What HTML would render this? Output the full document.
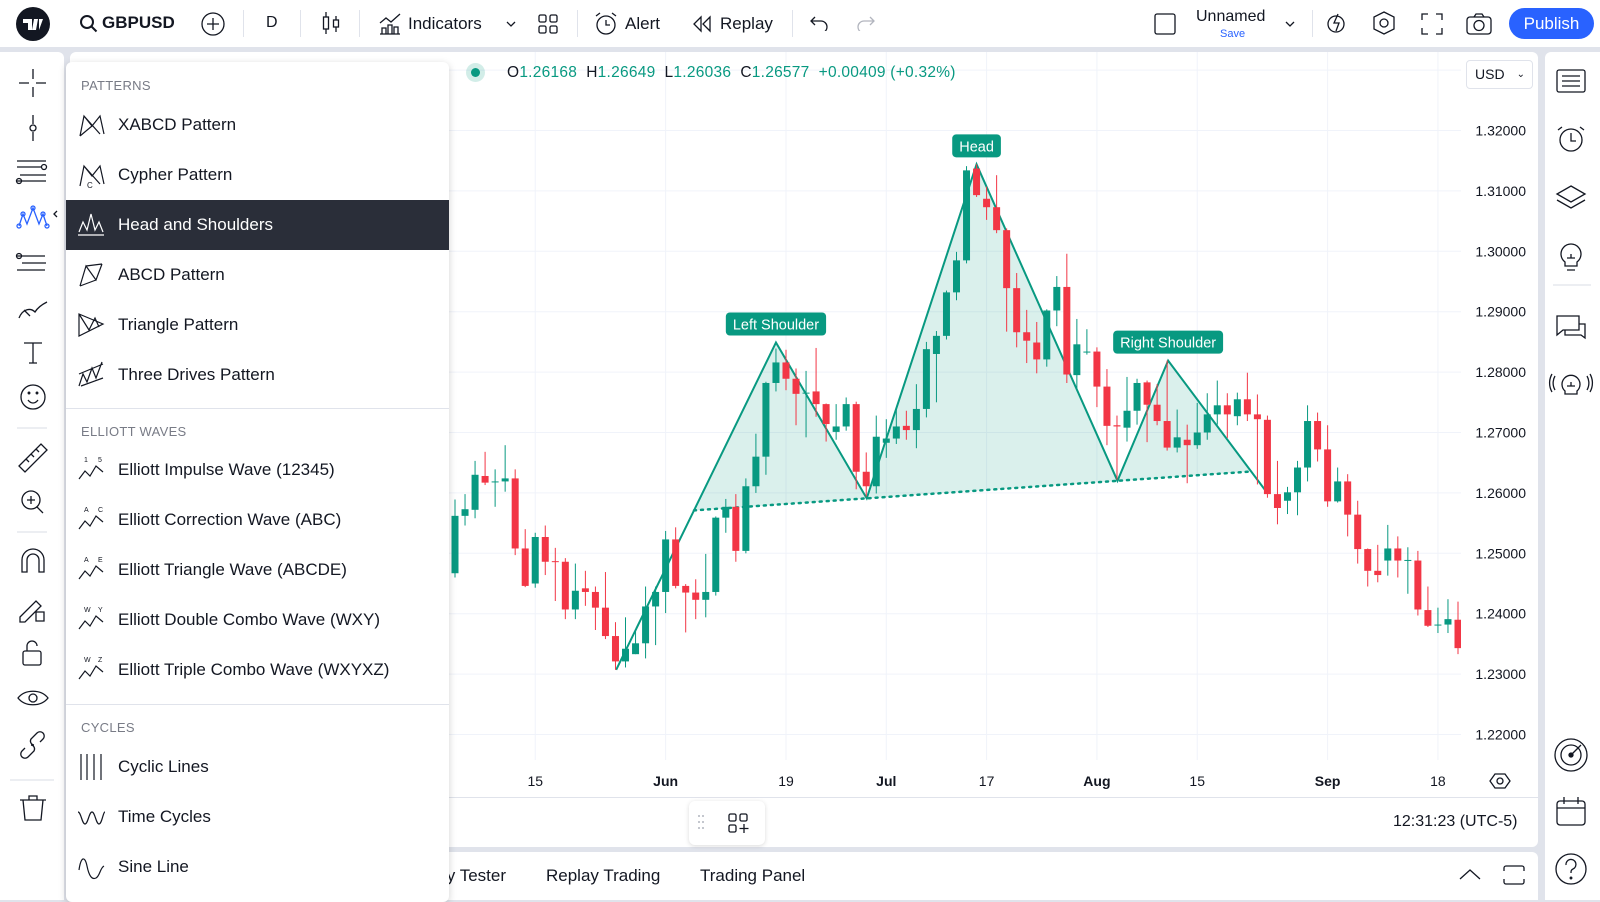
<!DOCTYPE html>
<html><head><meta charset="utf-8">
<style>
*{box-sizing:border-box;margin:0;padding:0}
body{width:1600px;height:900px;overflow:hidden;background:#e0e3eb;font-family:"Liberation Sans",sans-serif;color:#131722;position:relative}
.abs{position:absolute}
.panel{position:absolute;background:#fff}
.t{position:absolute;white-space:nowrap}
.menu{position:absolute;left:66px;top:62px;width:383px;height:840px;background:#fff;border-radius:6px;box-shadow:0 2px 8px rgba(0,0,0,.18);z-index:5}
.mh{position:absolute;left:15px;font-size:13px;color:#787b86;letter-spacing:.3px}
.mi{position:absolute;left:0;width:383px;height:50px;font-size:17px;line-height:50px;padding-left:52px;color:#131722}
.mi svg{position:absolute;left:10px;top:10px}
.sel{background:#2a2e39;color:#fff}
.div{position:absolute;left:0;width:383px;height:1px;background:#e0e3eb}
.ic{position:absolute}
</style></head><body>

<div class="panel" style="left:0;top:0;width:1600px;height:47px">
  <svg class="ic" style="left:15px;top:6px" width="36" height="36"><circle cx="18" cy="18" r="17" fill="#131722"/><path d="M8 13h9v11h-4v-7h-5z M19 13h4l-2 11h-4z M24 13h4l-4 11z" fill="#fff"/></svg>
  <svg class="ic" style="left:79px;top:14px" width="20" height="20"><circle cx="8" cy="8" r="6" fill="none" stroke="#131722" stroke-width="2"/><path d="M12.5 12.5l5 5" stroke="#131722" stroke-width="2"/></svg>
  <div class="t" style="left:102px;top:13px;font-size:17px;font-weight:bold">GBPUSD</div>
  <svg class="ic" style="left:201px;top:12px" width="24" height="24"><circle cx="12" cy="12" r="11" fill="none" stroke="#131722" stroke-width="1.3"/><path d="M12 6v12M6 12h12" stroke="#131722" stroke-width="1.3"/></svg>
  <div class="abs" style="left:243px;top:10px;width:1px;height:27px;background:#e0e3eb"></div>
  <div class="t" style="left:266px;top:14px;font-size:16px">D</div>
  <div class="abs" style="left:300px;top:10px;width:1px;height:27px;background:#e0e3eb"></div>
  <svg class="ic" style="left:320px;top:10px" width="22" height="26"><path d="M6 2v22M16 6v16" stroke="#131722" stroke-width="1.3"/><rect x="3.5" y="7" width="5" height="12" fill="#fff" stroke="#131722" stroke-width="1.3"/><rect x="13.5" y="10" width="5" height="7" fill="#fff" stroke="#131722" stroke-width="1.3"/></svg>
  <div class="abs" style="left:359px;top:10px;width:1px;height:27px;background:#e0e3eb"></div>
  <svg class="ic" style="left:378px;top:11px" width="24" height="24"><path d="M2 12l6-5 5 4 9-8" fill="none" stroke="#131722" stroke-width="1.3"/><path d="M2 23h20M4 23v-6h4v6M10 23v-9h4v9M16 23v-7h4v7" fill="none" stroke="#131722" stroke-width="1.3"/></svg>
  <div class="t" style="left:408px;top:14px;font-size:17px">Indicators</div>
  <svg class="ic" style="left:505px;top:19px" width="12" height="10"><path d="M2 3l4 4 4-4" fill="none" stroke="#131722" stroke-width="1.3"/></svg>
  <svg class="ic" style="left:538px;top:14px" width="20" height="20"><rect x="1" y="1" width="7" height="7" rx="1.5" fill="none" stroke="#131722" stroke-width="1.3"/><rect x="12" y="1" width="7" height="7" rx="1.5" fill="none" stroke="#131722" stroke-width="1.3"/><rect x="1" y="12" width="7" height="7" rx="1.5" fill="none" stroke="#131722" stroke-width="1.3"/><rect x="12" y="12" width="7" height="7" rx="1.5" fill="none" stroke="#131722" stroke-width="1.3"/></svg>
  <div class="abs" style="left:577px;top:10px;width:1px;height:27px;background:#e0e3eb"></div>
  <svg class="ic" style="left:593px;top:11px" width="26" height="26"><circle cx="13" cy="14" r="9" fill="none" stroke="#131722" stroke-width="1.3"/><path d="M13 9v5h4M3 5l4-3M23 5l-4-3" fill="none" stroke="#131722" stroke-width="1.3"/></svg>
  <div class="t" style="left:625px;top:14px;font-size:17px">Alert</div>
  <svg class="ic" style="left:692px;top:15px" width="20" height="18"><path d="M9 2L2 9l7 7zM18 2l-7 7 7 7z" fill="none" stroke="#131722" stroke-width="1.3"/></svg>
  <div class="t" style="left:720px;top:14px;font-size:17px">Replay</div>
  <div class="abs" style="left:792px;top:10px;width:1px;height:27px;background:#e0e3eb"></div>
  <svg class="ic" style="left:809px;top:15px" width="20" height="16"><path d="M6 2L2 6l4 4M2 6h10a6 6 0 0 1 0 12" fill="none" stroke="#131722" stroke-width="1.3"/></svg>
  <svg class="ic" style="left:856px;top:15px" width="20" height="16"><path d="M14 2l4 4-4 4M18 6H8a6 6 0 0 0 0 12" fill="none" stroke="#b2b5be" stroke-width="1.3"/></svg>
  <svg class="ic" style="left:1154px;top:13px" width="22" height="22"><rect x="1" y="1" width="20" height="20" rx="2" fill="none" stroke="#131722" stroke-width="1.3"/></svg>
  <div class="t" style="left:1196px;top:8px;font-size:16px">Unnamed</div>
  <div class="t" style="left:1220px;top:28px;font-size:11px;color:#2962ff">Save</div>
  <svg class="ic" style="left:1284px;top:19px" width="12" height="10"><path d="M2 3l4 4 4-4" fill="none" stroke="#131722" stroke-width="1.3"/></svg>
  <div class="abs" style="left:1312px;top:10px;width:1px;height:27px;background:#e0e3eb"></div>
  <svg class="ic" style="left:1325px;top:11px" width="24" height="24"><circle cx="11" cy="13" r="8" fill="none" stroke="#131722" stroke-width="1.3"/><path d="M13 3l-4 9h5l-3 8" fill="none" stroke="#131722" stroke-width="1.3"/></svg>
  <svg class="ic" style="left:1372px;top:11px" width="24" height="24"><path d="M12 1l10 5v12l-10 5-10-5V6z" fill="none" stroke="#131722" stroke-width="1.3"/><circle cx="12" cy="12" r="4" fill="none" stroke="#131722" stroke-width="1.3"/></svg>
  <svg class="ic" style="left:1421px;top:13px" width="22" height="22"><path d="M1 7V1h6M15 1h6v6M21 15v6h-6M7 21H1v-6" fill="none" stroke="#131722" stroke-width="1.3"/></svg>
  <svg class="ic" style="left:1466px;top:13px" width="26" height="22"><rect x="1" y="4" width="24" height="17" rx="3" fill="none" stroke="#131722" stroke-width="1.3"/><circle cx="13" cy="12.5" r="5" fill="none" stroke="#131722" stroke-width="1.3"/><path d="M8 4l2-3h6l2 3" fill="none" stroke="#131722" stroke-width="1.3"/></svg>
  <div class="abs" style="left:1509px;top:8px;width:85px;height:31px;border-radius:16px;background:#2962ff;color:#fff;font-size:17px;line-height:31px;text-align:center">Publish</div>
</div>

<div class="panel" style="left:0;top:52px;width:64px;height:848px;border-top-right-radius:6px"></div>
<svg class="abs" style="left:0;top:0" width="64" height="900">
 <g fill="none" stroke="#131722" stroke-width="1.3">
  <path d="M19 83h10M36 83h10M33 69v10M33 87v10"/>
  <g><path d="M33 115v9M33 132v9"/><circle cx="33" cy="128" r="3"/></g>
  <g><path d="M17 161h29M17 167h25M20 175h26M17 181h29"/><circle cx="44" cy="167" r="2.5"/><circle cx="19" cy="181" r="2.5"/></g>
  <g stroke="#2962ff"><path d="M19 226l4-12 4 10 6-16 6 16 4-10 4 12"/><circle cx="19" cy="226" r="2"/><circle cx="23" cy="214" r="2"/><circle cx="33" cy="208" r="2"/><circle cx="43" cy="214" r="2"/><circle cx="47" cy="226" r="2"/></g>
  <path d="M57 211l-3 3 3 3" stroke="#131722"/>
  <g><path d="M17 256h28M22 263h24M17 270h28"/><circle cx="19" cy="256" r="2.5"/></g>
  <path d="M19 318c4-10 12-10 16-6 3-5 8-8 12-10M24 310l6 6"/>
  <path d="M24 343h18M33 343v20M29 363h8"/>
  <g><circle cx="33" cy="397" r="12"/><path d="M28 400c3 4 7 4 10 0"/><circle cx="29" cy="393" r=".8"/><circle cx="37" cy="393" r=".8"/></g>
  <path d="M17 428h30" stroke="#e0e3eb"/>
  <path d="M19 466l22-22 6 6-22 22zM26 459l3 3M31 454l3 3M36 449l3 3"/>
  <g><circle cx="31" cy="500" r="9"/><path d="M37 507l6 6M27 500h8M31 496v8"/></g>
  <path d="M17 532h30" stroke="#e0e3eb"/>
  <path d="M22 572v-12a11 11 0 0 1 22 0v12h-5v-12a6 6 0 0 0-12 0v12z"/>
  <path d="M20 617l16-16 5 5-16 16h-5zM36 612h8v9h-8z"/>
  <g><rect x="23" y="651" width="18" height="14" rx="2"/><path d="M27 651v-5a5 5 0 0 1 10 0"/></g>
  <g><path d="M18 698c7-9 23-9 30 0-7 9-23 9-30 0z"/><circle cx="33" cy="698" r="4"/></g>
  <path d="M25 748l-3 3a4 4 0 0 0 6 6l6-6a4 4 0 0 0-3-6M40 742l3-3a4 4 0 0 0-6-6l-6 6a4 4 0 0 0 3 6"/>
  <path d="M10 780h44" stroke="#e0e3eb"/>
  <path d="M23 800l2 20h16l2-20M20 800h26M29 800v-4h8v4"/>
 </g>
</svg>

<div class="panel" style="left:70px;top:52px;width:1468px;height:795px;border-radius:6px"></div>
<div class="panel" style="left:70px;top:852px;width:1468px;height:48px;border-top-left-radius:6px;border-top-right-radius:6px">
  <div class="t" style="left:322px;top:14px;font-size:17px">Strategy Tester</div>
  <div class="t" style="left:476px;top:14px;font-size:17px">Replay Trading</div>
  <div class="t" style="left:630px;top:14px;font-size:17px">Trading Panel</div>
  <svg class="ic" style="left:1388px;top:16px" width="24" height="14"><path d="M2 11l10-9 10 9" fill="none" stroke="#131722" stroke-width="1.3"/></svg>
  <svg class="ic" style="left:1433px;top:13px" width="22" height="20"><path d="M1 6V3a2 2 0 0 1 2-2h16a2 2 0 0 1 2 2v3M1 14v3a2 2 0 0 0 2 2h16a2 2 0 0 0 2-2v-3" fill="none" stroke="#131722" stroke-width="1.3"/></svg>
</div>
<div class="panel" style="left:1545px;top:52px;width:55px;height:848px;border-top-left-radius:6px"></div>
<svg class="abs" style="left:1545px;top:0" width="55" height="900">
 <g fill="none" stroke="#131722" stroke-width="1.3">
  <g><rect x="12" y="70" width="28" height="22" rx="2"/><path d="M17 76h18M17 81h18M17 86h18"/></g>
  <g><circle cx="26" cy="140" r="11"/><path d="M26 133v8h5M13 130l4-3M39 130l-4-3"/></g>
  <path d="M26 186l14 8-14 8-14-8zM12 200l14 8 14-8"/>
  <g><path d="M20 262a10 10 0 1 1 12 0v4h-12z"/><path d="M22 258h8M26 258v-4M22 270h8"/></g>
  <path d="M8 285h38" stroke="#e0e3eb"/>
  <path d="M12 316h22v14h-16l-6 5zM34 324h6v14l-4-3h-16v-5"/>
  <g><path d="M20 391a9 9 0 1 1 12 0v3h-12z"/><path d="M22 386h8M26 386v-4M10 376a14 14 0 0 0 0 14M42 376a14 14 0 0 1 0 14M7 374a18 18 0 0 0 0 18M45 374a18 18 0 0 1 0 18"/></g>
  <g><circle cx="26" cy="755" r="16"/><circle cx="26" cy="755" r="10"/><path d="M26 755l10-10"/><circle cx="26" cy="755" r="2" fill="#131722"/></g>
  <g><rect x="12" y="801" width="28" height="24" rx="3"/><path d="M12 808h28M19 797v7M33 797v7"/></g>
  <g><circle cx="26" cy="869" r="15"/><path d="M21 865a5 5 0 1 1 7 4c-2 1-2 2-2 4"/><circle cx="26" cy="878" r=".8"/></g>
 </g>
</svg>

<svg id="chart" class="abs" style="left:0;top:0;z-index:2" width="1600" height="900">
  <defs><clipPath id="plotclip"><rect x="70" y="52" width="1391" height="708"/></clipPath></defs>
  <g id="grid"></g>
  <g id="pattern" clip-path="url(#plotclip)"></g>
  <g id="candles" clip-path="url(#plotclip)"></g>
  <g id="labels"></g>
  <g id="axes"></g>
</svg>

<div class="abs" style="left:70px;top:797px;width:1468px;height:1px;background:#e0e3eb;z-index:2"></div>
<div class="t" style="left:466px;top:63px;width:19px;height:19px;border-radius:50%;background:rgba(8,153,129,.18);z-index:3"><div style="position:absolute;left:5px;top:5px;width:9px;height:9px;border-radius:50%;background:#089981"></div></div>
<div class="t" style="left:507px;top:64px;font-size:15.5px;letter-spacing:.25px;z-index:3">O<span style="color:#089981">1.26168</span>&nbsp; H<span style="color:#089981">1.26649</span>&nbsp; L<span style="color:#089981">1.26036</span>&nbsp; C<span style="color:#089981">1.26577</span>&nbsp; <span style="color:#089981">+0.00409 (+0.32%)</span></div>
<div class="abs" style="left:1466px;top:60px;width:67px;height:29px;border:1px solid #e0e3eb;border-radius:4px;font-size:14px;line-height:27px;padding-left:8px;background:#fff;z-index:3">USD<span style="position:absolute;right:7px;top:0;font-size:10px">&#8964;</span></div>
<svg class="abs" style="left:1489px;top:772px;z-index:3" width="22" height="18"><path d="M6 2h10l5 7-5 7H6L1 9z" fill="none" stroke="#131722" stroke-width="1.3"/><circle cx="11" cy="9" r="3" fill="none" stroke="#131722" stroke-width="1.3"/></svg>
<div class="t" style="left:1393px;top:813px;font-size:16px;z-index:3">12:31:23 (UTC-5)</div>
<div class="abs" style="left:689px;top:801px;width:76px;height:44px;background:#fff;border-radius:6px;box-shadow:0 1px 5px rgba(0,0,0,.15);z-index:3">
  <svg style="position:absolute;left:8px;top:13px" width="8" height="18"><g fill="#b2b5be"><circle cx="2" cy="2" r="1"/><circle cx="6" cy="2" r="1"/><circle cx="2" cy="8" r="1"/><circle cx="6" cy="8" r="1"/><circle cx="2" cy="14" r="1"/><circle cx="6" cy="14" r="1"/></g></svg>
  <svg style="position:absolute;left:39px;top:12px" width="22" height="22"><g fill="none" stroke="#131722" stroke-width="1.3"><rect x="1" y="1" width="7" height="7" rx="1.5"/><rect x="12" y="1" width="7" height="7" rx="1.5"/><rect x="1" y="12" width="7" height="7" rx="1.5"/><path d="M16 11v9M11.5 15.5h9"/></g></svg>
</div>

<div class="menu">
  <div class="mh" style="top:16px">PATTERNS</div>
  <div class="mi" style="top:38px"><svg width="30" height="30"><path d="M4 26l4-20 8 10 8-10 4 18M8 6l16 18M4 26l12-10" fill="none" stroke="#131722" stroke-width="1.2"/></svg>XABCD Pattern</div>
  <div class="mi" style="top:88px"><svg width="30" height="30"><path d="M4 26l4-20 8 10 8-10 4 18M8 6l16 18" fill="none" stroke="#131722" stroke-width="1.2"/><text x="11" y="28" font-size="8" fill="#131722">C</text></svg>Cypher Pattern</div>
  <div class="mi sel" style="top:138px"><svg width="30" height="30"><path d="M3 22l4-10 4 8 4-16 4 16 4-8 4 10M2 25h26" fill="none" stroke="#fff" stroke-width="1.2"/></svg>Head and Shoulders</div>
  <div class="mi" style="top:188px"><svg width="30" height="30"><path d="M4 26l6-20 10 14 6-16M4 26l16-6M10 6l16-2" fill="none" stroke="#131722" stroke-width="1.2"/></svg>ABCD Pattern</div>
  <div class="mi" style="top:238px"><svg width="30" height="30"><path d="M3 4l24 10-24 12zM3 4l10 16 6-12 4 9" fill="none" stroke="#131722" stroke-width="1.2"/></svg>Triangle Pattern</div>
  <div class="mi" style="top:288px"><svg width="30" height="30"><path d="M3 26l4-12 4 8 5-14 4 10 6-16M3 14l24-10M5 26l22-8" fill="none" stroke="#131722" stroke-width="1.2"/></svg>Three Drives Pattern</div>
  <div class="div" style="top:346px"></div>
  <div class="mh" style="top:362px">ELLIOTT WAVES</div>
  <div class="mi" style="top:383px"><svg width="30" height="30"><path d="M3 24l6-8 5 5 6-10 7 6" fill="none" stroke="#131722" stroke-width="1.2"/><text x="8" y="7" font-size="7" fill="#131722">1</text><text x="22" y="7" font-size="7" fill="#131722">5</text></svg>Elliott Impulse Wave (12345)</div>
  <div class="mi" style="top:433px"><svg width="30" height="30"><path d="M3 24l6-8 5 5 6-10 7 6" fill="none" stroke="#131722" stroke-width="1.2"/><text x="8" y="7" font-size="7" fill="#131722">A</text><text x="22" y="7" font-size="7" fill="#131722">C</text></svg>Elliott Correction Wave (ABC)</div>
  <div class="mi" style="top:483px"><svg width="30" height="30"><path d="M3 24l6-8 5 5 6-10 7 6" fill="none" stroke="#131722" stroke-width="1.2"/><text x="8" y="7" font-size="7" fill="#131722">A</text><text x="22" y="7" font-size="7" fill="#131722">E</text></svg>Elliott Triangle Wave (ABCDE)</div>
  <div class="mi" style="top:533px"><svg width="30" height="30"><path d="M3 24l6-8 5 5 6-10 7 6" fill="none" stroke="#131722" stroke-width="1.2"/><text x="8" y="7" font-size="7" fill="#131722">W</text><text x="22" y="7" font-size="7" fill="#131722">Y</text></svg>Elliott Double Combo Wave (WXY)</div>
  <div class="mi" style="top:583px"><svg width="30" height="30"><path d="M3 24l6-8 5 5 6-10 7 6" fill="none" stroke="#131722" stroke-width="1.2"/><text x="8" y="7" font-size="7" fill="#131722">W</text><text x="22" y="7" font-size="7" fill="#131722">Z</text></svg>Elliott Triple Combo Wave (WXYXZ)</div>
  <div class="div" style="top:642px"></div>
  <div class="mh" style="top:658px">CYCLES</div>
  <div class="mi" style="top:680px"><svg width="30" height="30"><path d="M5 2v26M11 2v26M18 2v26M25 2v26" fill="none" stroke="#131722" stroke-width="1.2"/></svg>Cyclic Lines</div>
  <div class="mi" style="top:730px"><svg width="30" height="30"><path d="M2 10c3 0 4 12 7 12s4-12 7-12 4 12 7 12 4-12 6-12" fill="none" stroke="#131722" stroke-width="1.2"/></svg>Time Cycles</div>
  <div class="mi" style="top:780px"><svg width="30" height="30"><path d="M3 18c2-14 6-14 8-4s5 14 9 12 4-10 8-12" fill="none" stroke="#131722" stroke-width="1.2"/></svg>Sine Line</div>
</div>

<script>
const opens=[1.2467,1.2562,1.2572,1.2628,1.2618,1.2619,1.2624,1.2508,1.2450,1.2527,1.2487,1.2486,1.2407,1.2442,1.2436,1.2410,1.2363,1.2321,1.2333,1.2351,1.2412,1.2436,1.2523,1.2446,1.2435,1.2423,1.2436,1.2559,1.2577,1.2504,1.2611,1.2660,1.2782,1.2816,1.2789,1.2765,1.2768,1.2747,1.2701,1.2710,1.2747,1.2635,1.2611,1.2683,1.2690,1.2711,1.2704,1.2739,1.2830,1.2860,1.2932,1.2985,1.3137,1.3087,1.3073,1.3035,1.2939,1.2866,1.2849,1.2821,1.2902,1.2941,1.2795,1.2833,1.2834,1.2776,1.2712,1.2708,1.2736,1.2783,1.2746,1.2719,1.2675,1.2688,1.2679,1.2700,1.2730,1.2745,1.2727,1.2755,1.2730,1.2721,1.2598,1.2587,1.2601,1.2642,1.2719,1.2672,1.2586,1.2619,1.2564,1.2507,1.2471,1.2488,1.2508,1.2488,1.2488,1.2406,1.2381,1.2382,1.2390];
const highs=[1.2589,1.2598,1.2653,1.2668,1.2639,1.2679,1.2639,1.2540,1.2534,1.2546,1.2509,1.2492,1.2483,1.2471,1.2445,1.2469,1.2386,1.2394,1.2372,1.2445,1.2445,1.2537,1.2543,1.2449,1.2457,1.2499,1.2561,1.2590,1.2598,1.2624,1.2698,1.2784,1.2839,1.2837,1.2806,1.2802,1.2840,1.2748,1.2747,1.2758,1.2751,1.2667,1.2728,1.2722,1.2740,1.2736,1.2780,1.2850,1.2868,1.2935,1.2999,1.3141,1.3144,1.3107,1.3126,1.3038,1.2964,1.2903,1.2883,1.2904,1.2959,1.2996,1.2888,1.2871,1.2841,1.2805,1.2728,1.2792,1.2789,1.2786,1.2780,1.2819,1.2738,1.2713,1.2749,1.2765,1.2786,1.2765,1.2766,1.2799,1.2763,1.2728,1.2653,1.2610,1.2653,1.2745,1.2733,1.2712,1.2642,1.2631,1.2587,1.2508,1.2514,1.2547,1.2528,1.2510,1.2504,1.2445,1.2410,1.2424,1.2420];
const lows=[1.2460,1.2546,1.2558,1.2613,1.2577,1.2602,1.2497,1.2444,1.2443,1.2464,1.2421,1.2391,1.2391,1.2413,1.2373,1.2358,1.2307,1.2311,1.2333,1.2326,1.2348,1.2401,1.2442,1.2369,1.2391,1.2394,1.2430,1.2534,1.2486,1.2500,1.2600,1.2630,1.2768,1.2770,1.2712,1.2692,1.2726,1.2685,1.2688,1.2703,1.2606,1.2594,1.2599,1.2658,1.2681,1.2688,1.2674,1.2725,1.2750,1.2854,1.2919,1.2980,1.3090,1.3052,1.3030,1.2867,1.2841,1.2815,1.2798,1.2809,1.2876,1.2782,1.2773,1.2829,1.2742,1.2679,1.2622,1.2685,1.2713,1.2684,1.2712,1.2670,1.2667,1.2616,1.2673,1.2688,1.2713,1.2691,1.2712,1.2719,1.2614,1.2592,1.2548,1.2565,1.2563,1.2619,1.2652,1.2577,1.2584,1.2528,1.2483,1.2445,1.2452,1.2463,1.2460,1.2433,1.2397,1.2378,1.2368,1.2368,1.2333];
const closes=[1.2562,1.2573,1.2630,1.2617,1.2619,1.2624,1.2508,1.2446,1.2527,1.2486,1.2486,1.2407,1.2438,1.2436,1.2410,1.2363,1.2321,1.2342,1.2351,1.2412,1.2436,1.2523,1.2446,1.2435,1.2423,1.2436,1.2559,1.2577,1.2504,1.2611,1.2660,1.2782,1.2816,1.2789,1.2764,1.2766,1.2747,1.2714,1.2710,1.2747,1.2635,1.2611,1.2693,1.2690,1.2710,1.2704,1.2739,1.2838,1.2860,1.2932,1.2985,1.3134,1.3093,1.3073,1.3035,1.2939,1.2866,1.2852,1.2821,1.2902,1.2941,1.2796,1.2846,1.2834,1.2776,1.2711,1.2710,1.2736,1.2782,1.2746,1.2719,1.2675,1.2692,1.2679,1.2700,1.2730,1.2745,1.2730,1.2755,1.2730,1.2722,1.2598,1.2575,1.2601,1.2642,1.2719,1.2672,1.2586,1.2619,1.2564,1.2507,1.2471,1.2464,1.2508,1.2488,1.2489,1.2407,1.2380,1.2382,1.2391,1.2343];
const priceTicks=[1.32,1.31,1.30,1.29,1.28,1.27,1.26,1.25,1.24,1.23,1.22];
const priceTickLabels=["1.32000","1.31000","1.30000","1.29000","1.28000","1.27000","1.26000","1.25000","1.24000","1.23000","1.22000"];
const dateIdx=[8,21,33,43,53,64,74,87,98];
const dateLabels=["15","Jun","19","Jul","17","Aug","15","Sep","18"];
const dateBold=[false,true,false,true,false,true,false,true,false];
const patternIdx=[16.07,32,41.05,52,66.05,71.1,80.8];
const patternPrice=[1.2307,1.2849,1.2591,1.3144,1.2620,1.2819,1.2604];
const patternLabels=["Left Shoulder","Head","Right Shoulder"];
const patternLabelPoint=[1,3,5];

const NS="http://www.w3.org/2000/svg";
function X(i){return 455+i*10.03;}
function Y(p){return 130.5+(1.32-p)*6040;}
function mk(tag,attrs,parent){const e=document.createElementNS(NS,tag);for(const k in attrs)e.setAttribute(k,attrs[k]);parent.appendChild(e);return e;}
const G=document.getElementById('grid'),P=document.getElementById('pattern'),C=document.getElementById('candles'),L=document.getElementById('labels'),A=document.getElementById('axes');
const GREEN="#089981",RED="#f23645";

mk('line',{x1:70,x2:1461,y1:Y(1.33),y2:Y(1.33),stroke:"#f0f3fa"},G);
priceTicks.forEach((p,k)=>{
  const ln=mk('line',{x1:70,x2:1461,y1:Y(p),y2:Y(p),stroke:"#f0f3fa","stroke-width":1},G);
  
  
  const t=mk('text',{x:1526,y:Y(p)+5,"text-anchor":"end","font-size":14,fill:"#131722","font-family":"Liberation Sans"},A);
  t.textContent=priceTickLabels[k];
  
  
});
dateIdx.forEach((d,k)=>{
  const ln=mk('line',{x1:X(d),x2:X(d),y1:52,y2:760,stroke:"#f0f3fa","stroke-width":1},G);
  
  
  const t=mk('text',{x:X(d),y:786,"text-anchor":"middle","font-size":14,fill:"#131722","font-family":"Liberation Sans","font-weight":dateBold[k]?"bold":"normal"},A);
  t.textContent=dateLabels[k];
  
  
});

const pts=patternIdx.map((d,k)=>[X(d),Y(patternPrice[k])]);
const n1=pts[2],n2=pts[4];
function neckY(x){return n1[1]+(n2[1]-n1[1])*(x-n1[0])/(n2[0]-n1[0]);}
function interNeck(a,b){
  const m=(n2[1]-n1[1])/(n2[0]-n1[0]);
  const ms=(b[1]-a[1])/(b[0]-a[0]);
  const x=(a[1]-ms*a[0]-(n1[1]-m*n1[0]))/(m-ms);
  return [x,neckY(x)];
}
const s=interNeck(pts[0],pts[1]),e=interNeck(pts[5],pts[6]);
const fillPts=[s,pts[1],pts[2],pts[3],pts[4],pts[5],e];
const fp=mk('polygon',{points:fillPts.map(q=>q.join(',')).join(' '),fill:"rgba(8,153,129,0.15)"},P);


const nl=mk('line',{x1:s[0],y1:s[1],x2:e[0],y2:e[1],stroke:GREEN,"stroke-width":2.5,"stroke-dasharray":"2 5","stroke-linecap":"round"},P);


const zz=mk('polyline',{points:pts.map(q=>q.join(',')).join(' '),fill:"none",stroke:GREEN,"stroke-width":2,"stroke-linejoin":"miter"},P);



for(let i=0;i<opens.length;i++){
  const o=opens[i],c=closes[i],h=highs[i],l=lows[i];
  const col=c>=o?GREEN:RED;
  const g=mk('g',{},C);
  
  
  const x=X(i);
  mk('line',{x1:x,x2:x,y1:Y(h),y2:Y(l),stroke:col,"stroke-width":1},g);
  const top=Y(Math.max(o,c)),bot=Y(Math.min(o,c));
  mk('rect',{x:x-3.5,y:top,width:7,height:Math.max(1,bot-top),fill:col},g);
}

patternLabelPoint.forEach((pi,k)=>{
  const [px,py]=pts[pi];
  const g=mk('g',{},L);
  
  
  const t=mk('text',{x:px,y:py-13,"text-anchor":"middle","font-size":14.5,fill:"#fff","font-family":"Liberation Sans"},g);
  t.textContent=patternLabels[k];
  const w=t.getComputedTextLength()+14;
  const r=mk('rect',{x:px-w/2,y:py-30,width:w,height:23,rx:4,fill:GREEN},g);
  g.insertBefore(r,t);
});
</script>
</body></html>
